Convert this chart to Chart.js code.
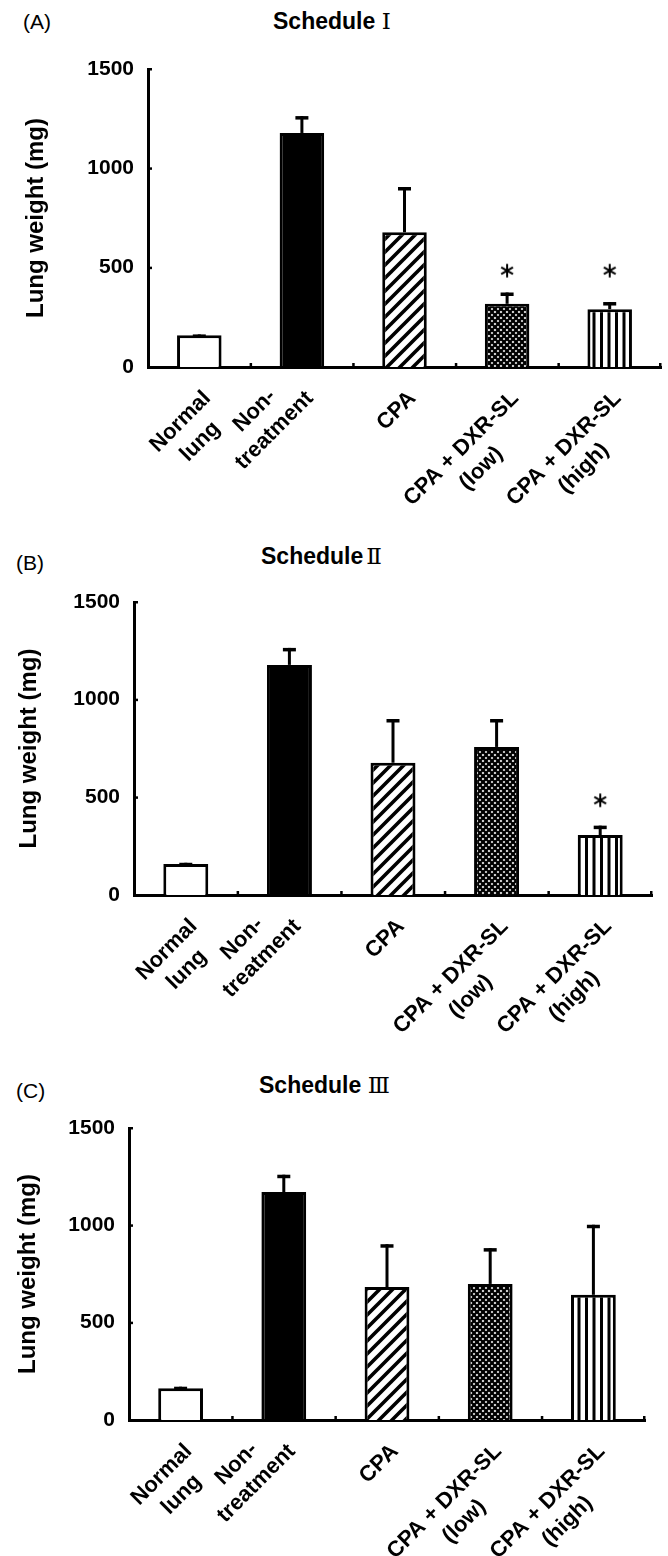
<!DOCTYPE html>
<html><head><meta charset="utf-8">
<script src="https://cdn.jsdelivr.net/npm/chart.js@4.4.0/dist/chart.umd.min.js"></script>
<style>
html,body{margin:0;padding:0;background:#fff;}
body{width:668px;height:1556px;position:relative;overflow:hidden;font-family:'Liberation Sans',Arial,sans-serif;color:#000;}
.letter{position:absolute;font-size:21px;line-height:1;white-space:nowrap;}
.title{position:absolute;font-size:23px;font-weight:bold;line-height:1;white-space:nowrap;}
.num{font-family:'DejaVu Serif','Liberation Serif',serif;font-weight:normal;}
.wrap{position:absolute;left:0;width:668px;}
canvas{display:block;}
</style></head><body>
<div class="letter" style="left:23px;top:11px">(A)</div>
<div class="title" style="left:273px;top:10px">Schedule <span class="num">Ⅰ</span></div>
<div class="letter" style="left:16px;top:552px">(B)</div>
<div class="title" style="left:261px;top:545px">Schedule<span class="num" style="margin-left:3px">Ⅱ</span></div>
<div class="letter" style="left:16px;top:1080px">(C)</div>
<div class="title" style="left:259px;top:1074px">Schedule <span class="num">Ⅲ</span></div>

<div class="wrap" style="top:0px;height:545px"><canvas id="cA" width="668" height="545" style="width:668px;height:545px"></canvas></div>
<div class="wrap" style="top:545px;height:500px"><canvas id="cB" width="668" height="500" style="width:668px;height:500px"></canvas></div>
<div class="wrap" style="top:1045px;height:511px"><canvas id="cC" width="668" height="511" style="width:668px;height:511px"></canvas></div>

<script>
// ---- data ----
const categories = [['Normal','lung'],['Non-','treatment'],['CPA'],['CPA + DXR-SL','(low)'],['CPA + DXR-SL','(high)']];
const yTicks = [0, 500, 1000, 1500];
const yTickLabels = ['0', '500', '1000', '1500'];
const meanA = [160, 1178, 678, 318, 291];
const errA  = [4, 85, 228, 57, 36];
const starA = [null, null, null, 485, 485];
const meanB = [159, 1178, 677, 758, 307];
const errB  = [6, 87, 224, 143, 48];
const starB = [null, null, null, null, 485];
const meanC = [163, 1171, 683, 699, 643];
const errC  = [8, 89, 220, 184, 360];
const starC = [null, null, null, null, null];

// ---- layout (page pixels) ----
const panels = [
  {id:'cA', canvasTop:0,    canvasH:545, top:69,   bottom:367,  left:148, right:666, titlePad:22, mean:meanA, err:errA, star:starA},
  {id:'cB', canvasTop:545,  canvasH:500, top:602,  bottom:895,  left:134, right:652, titlePad:15, mean:meanB, err:errB, star:starB},
  {id:'cC', canvasTop:1045, canvasH:511, top:1128, bottom:1420, left:129, right:645, titlePad:14, mean:meanC, err:errC, star:starC}
];

const FONT = "'Liberation Sans', Arial, sans-serif";

function tile(w, h, draw){
  const c = document.createElement('canvas'); c.width = w; c.height = h;
  const g = c.getContext('2d'); g.fillStyle = '#fff'; g.fillRect(0,0,w,h);
  draw(g, w, h); return c;
}
function patterns(ctx){
  const hatch = tile(13,13,(g,s)=>{
    g.strokeStyle='#000'; g.lineWidth=3.6; g.lineCap='square';
    for (let k=-1;k<=1;k++){ g.beginPath(); g.moveTo(k*s, s); g.lineTo(k*s+s, 0); g.stroke(); }
  });
  const cross = tile(6,6,(g,s)=>{
    g.strokeStyle='#000'; g.lineWidth=2.3;
    for (let k=-1;k<=1;k++){
      g.beginPath(); g.moveTo(k*s, s); g.lineTo(k*s+s, 0); g.stroke();
      g.beginPath(); g.moveTo(k*s, 0); g.lineTo(k*s+s, s); g.stroke();
    }
  });
  const vert = tile(15,4,(g)=>{
    g.fillStyle='#000'; g.fillRect(0,0,3,4); g.fillRect(7.5,0,3,4);
  });
  return ['#ffffff', '#000000', ctx.createPattern(hatch,'repeat'), ctx.createPattern(cross,'repeat'), ctx.createPattern(vert,'repeat')];
}

// asterisk marker
const star = (()=>{
  const c = document.createElement('canvas'); c.width = 16; c.height = 16;
  const g = c.getContext('2d'); g.strokeStyle='#000'; g.lineWidth=2; g.lineCap='butt';
  const r = 6.8;
  [90, 30, 150].forEach(a=>{
    const t = a*Math.PI/180;
    g.beginPath(); g.moveTo(8 - r*Math.cos(t), 8 - r*Math.sin(t)); g.lineTo(8 + r*Math.cos(t), 8 + r*Math.sin(t)); g.stroke();
  });
  return c;
})();

const errorBars = {
  id:'errorBars',
  afterDatasetsDraw(chart, args, opts){
    const ctx = chart.ctx, xs = chart.scales.x, ys = chart.scales.y;
    ctx.save(); ctx.strokeStyle='#000'; ctx.fillStyle='#000'; ctx.lineWidth=3;
    opts.mean.forEach((m,i)=>{
      const x = xs.getPixelForValue(i);
      const yb = ys.getPixelForValue(m), yt = ys.getPixelForValue(m + opts.err[i]);
      ctx.beginPath(); ctx.moveTo(x, yb); ctx.lineTo(x, yt); ctx.stroke();
      ctx.fillRect(x-6.5, yt, 13, 3.5);
    });
    ctx.restore();
  }
};

const axisMarks = {
  id:'axisMarks',
  afterDraw(chart){
    const ctx = chart.ctx, xs = chart.scales.x, ys = chart.scales.y, ca = chart.chartArea;
    ctx.save(); ctx.fillStyle='#000';
    yTicks.forEach(v=>{ if (v>0){ const y = ys.getPixelForValue(v); ctx.fillRect(ca.left, y-1, 4, 2.5); } });
    for (let i=0;i<categories.length;i++){
      const xx = i+1<categories.length ? (xs.getPixelForValue(i) + xs.getPixelForValue(i+1))/2 : ca.right-1;
      ctx.fillRect(xx-1, ca.bottom-4, 2.5, 4);
    }
    ctx.restore();
  }
};

const xLabels = {
  id:'xLabels',
  afterDraw(chart, args, opts){
    const ctx = chart.ctx, xs = chart.scales.x, bottom = chart.chartArea.bottom;
    ctx.save();
    ctx.font = 'bold 22px ' + FONT;
    ctx.fillStyle = '#000'; ctx.textAlign = 'center'; ctx.textBaseline = 'middle';
    categories.forEach((lines, i)=>{
      const cx = xs.getPixelForValue(i);
      const w = lines.map(l=>ctx.measureText(l).width);
      const maxW = Math.max(...w), wi = w.indexOf(maxW);
      ctx.save();
      ctx.translate(cx + opts.dx, bottom + opts.dy);
      ctx.rotate(-Math.PI/4);
      lines.forEach((l,j)=> ctx.fillText(l, -maxW/2, (j - wi)*opts.lh));
      ctx.restore();
    });
    ctx.restore();
  }
};

panels.forEach(p=>{
  const canvas = document.getElementById(p.id);
  const ctx = canvas.getContext('2d');
  new Chart(ctx, {
    type:'bar',
    data:{
      labels: categories.map(c=>c.join(' ')),
      datasets:[
        {type:'line', data:p.star, showLine:false, pointStyle:star, pointRadius:6, pointHoverRadius:6, borderColor:'#000', backgroundColor:'#000', order:0},
        {type:'bar', data:p.mean, backgroundColor:patterns(ctx), borderColor:'#000', borderWidth:3,
         barPercentage:0.434, categoryPercentage:1.0, order:1}
      ]
    },
    options:{
      responsive:false, animation:false, devicePixelRatio:1,
      layout:{padding:{left:0, right:668 - p.right, top:p.top - p.canvasTop, bottom:p.canvasTop + p.canvasH - p.bottom}},
      plugins:{
        legend:{display:false}, tooltip:{enabled:false}, title:{display:false},
        errorBars:{mean:p.mean, err:p.err},
        xLabels:{dx:8, dy:28, lh:28}
      },
      scales:{
        x:{offset:true, grid:{display:false, drawTicks:false}, border:{display:true, color:'#000', width:3},
           ticks:{display:false}, afterFit:s=>{ s.height = 0; }},
        y:{min:0, max:1500,
           afterBuildTicks:s=>{ s.ticks = yTicks.map(v=>({value:v})); },
           grid:{display:false, drawTicks:false}, border:{display:true, color:'#000', width:3},
           ticks:{color:'#000', padding:14, font:{family:FONT, size:21, weight:'bold'},
                  callback:(v)=>{ const k = yTicks.indexOf(v); return k>=0 ? yTickLabels[k] : ''; }},
           title:{display:true, text:'Lung weight (mg)', color:'#000', font:{family:FONT, size:24, weight:'bold'}, padding:{top:p.titlePad, bottom:0}},
           afterFit:s=>{ s.width = p.left; }}
      }
    },
    plugins:[errorBars, axisMarks, xLabels]
  });
});
</script>
</body></html>
